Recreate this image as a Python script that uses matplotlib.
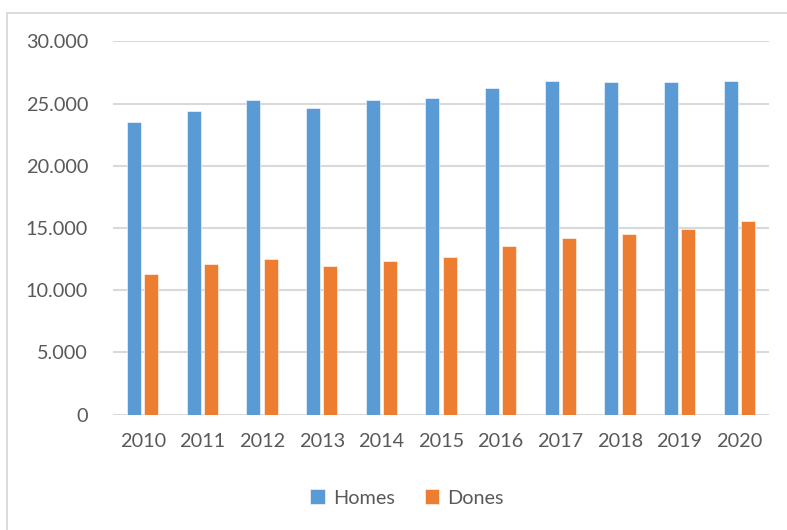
import numpy as np
import matplotlib.pyplot as plt
from matplotlib.patches import Rectangle
from matplotlib.ticker import FuncFormatter

years = ['2010', '2011', '2012', '2013', '2014', '2015', '2016', '2017', '2018', '2019', '2020']
homes = [23530, 24440, 25270, 24650, 25320, 25480, 26290, 26820, 26720, 26770, 26820]
dones = [11310, 12110, 12520, 11950, 12360, 12680, 13540, 14200, 14530, 14930, 15600]

blue = '#5b9bd5'
orange = '#ed7d31'
txt = '#595959'

plt.rcParams['font.family'] = ['Lato', 'DejaVu Sans']

fig = plt.figure(figsize=(7.87, 5.30), dpi=100)
ax = fig.add_axes([113/787, 1 - 414.7/530, (769 - 113)/787, (414.7 - 41.5)/530])

x = np.arange(len(years))
w = 0.235
ax.bar(x - 0.145, homes, w, color=blue, edgecolor='white', linewidth=0.4, label='Homes', zorder=3)
ax.bar(x + 0.145, dones, w, color=orange, edgecolor='white', linewidth=0.4, label='Dones', zorder=3)

ax.set_xlim(-0.5, len(years) - 0.5)
ax.set_ylim(0, 30000)
ax.set_yticks(np.arange(0, 30001, 5000))
ax.yaxis.set_major_formatter(FuncFormatter(lambda v, p: f'{int(v):,}'.replace(',', '.')))
ax.set_xticks(x)
ax.set_xticklabels(years)
ax.grid(axis='y', color='#d9d9d9', linewidth=1.5, zorder=0)
for s in ax.spines.values():
    s.set_visible(False)
ax.tick_params(length=0, labelsize=14.3, colors=txt)
ax.tick_params(axis='y', pad=18)
ax.tick_params(axis='x', pad=13)

# light frame around the chart area
fig.patches.append(Rectangle((7/787, -0.1), 1.1, 1 - 13/530 + 0.1, transform=fig.transFigure,
                             fill=False, edgecolor='#d9d9d9', linewidth=1.3))

fig.legend(loc='center', bbox_to_anchor=(407/787, 1 - 498/530), ncol=2, frameon=False,
           fontsize=14.3, labelcolor=txt, handlelength=0.75, handleheight=0.75,
           handletextpad=0.4, columnspacing=1.5)

fig.savefig('out.png', dpi=100)
